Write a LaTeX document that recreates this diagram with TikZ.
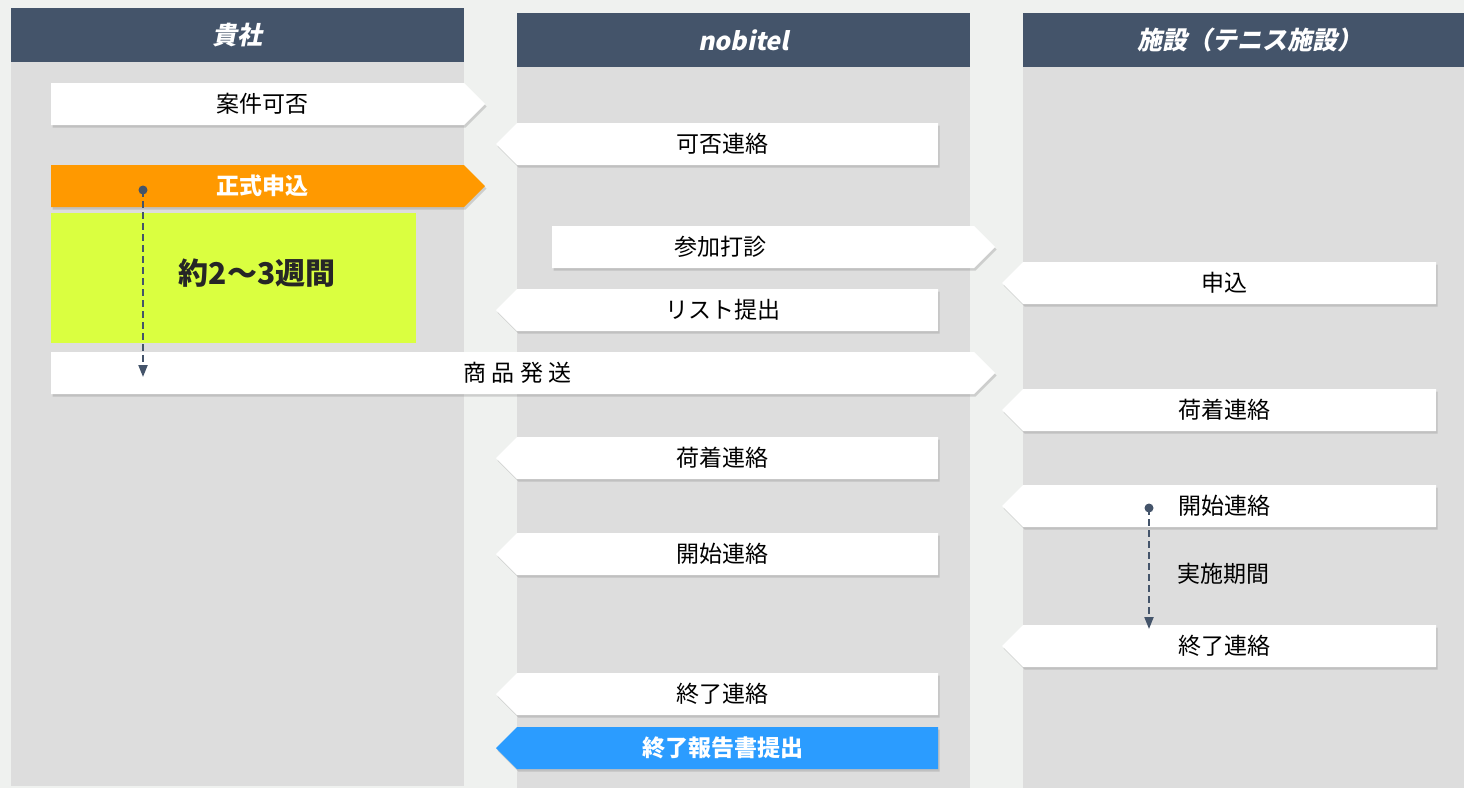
\documentclass[tikz,border=0pt]{standalone}
\usepackage{fontspec}
\setmainfont{Noto Sans CJK JP}
\newfontfamily\hdfont{Noto Sans CJK JP}[FakeSlant=0.2]
\usetikzlibrary{arrows.meta,shadows}

\definecolor{pagebg}{HTML}{EFF1EF}
\definecolor{colbg}{HTML}{DDDDDD}
\definecolor{hdblue}{HTML}{44546A}
\definecolor{orange}{HTML}{FF9900}
\definecolor{lime}{HTML}{DAFF40}
\definecolor{skyblue}{HTML}{2B9CFF}

\tikzset{
  shade/.style={drop shadow={shadow xshift=1.5pt,shadow yshift=-2.5pt,opacity=0.3}},
  wbar/.style={shade,fill=white},
  obar/.style={shade,fill=orange},
  bbar/.style={shade,fill=skyblue},
  wtxt/.style={text=black,font=\fontsize{23}{26}\selectfont},
  btxt/.style={text=white,font=\bfseries\fontsize{23}{26}\selectfont},
  head/.style={text=white,font=\hdfont\bfseries\fontsize{25}{28}\selectfont},
  flow/.style={hdblue,line width=2pt,dash pattern=on 7pt off 4pt,-{Triangle[length=12pt,width=9pt]}}
}

% bar pointing right: name, left x, right x, top y, bar style, text style, text
\newcommand{\rbar}[7]{%
  \fill[#5] (#2,#4) -- (#3,#4) -- (#3+21,#4+21) -- (#3,#4+42) -- (#2,#4+42) -- cycle;
  \node[#6] (#1) at ({(#2+#3)/2+5},#4+21) {#7};}
% bar pointing left
\newcommand{\lbar}[7]{%
  \fill[#5] (#2,#4) -- (#3,#4) -- (#3,#4+42) -- (#2,#4+42) -- (#2-21,#4+21) -- cycle;
  \node[#6] (#1) at ({(#2+#3)/2-5},#4+21) {#7};}

\begin{document}
\begin{tikzpicture}[x=1pt,y=-1pt]
  \clip (0,0) rectangle (1464,788);
  \fill[pagebg] (0,0) rectangle (1464,788);

  % columns
  \fill[colbg] (11,62) rectangle (464,786);
  \fill[colbg] (517,67) rectangle (970,788);
  \fill[colbg] (1023,67) rectangle (1476,788);
  \foreach \x/\y/\t in {11/8/貴社, 517/13/nobitel, 1023/13/施設（テニス施設）}{
    \fill[hdblue] (\x,\y) rectangle (\x+453,\y+54);
    \node[head] (hd\x) at (\x+226.5,\y+27) {\t};
  }

  % company
  \rbar{anken}{51}{464}{83}{wbar}{wtxt}{案件可否}
  \rbar{seishiki}{51}{464}{165}{obar}{btxt}{正式申込}
  \fill[lime] (51,213) rectangle (416,343);
  \node[text=black!85,font=\bfseries\fontsize{30}{34}\selectfont] (kikan) at (257,273) {約2〜3週間};
  \rbar{hassou}{51}{974}{352}{wbar}{wtxt}{商 品 発 送}

  % nobitel
  \lbar{kahi}{517}{938}{123}{wbar}{wtxt}{可否連絡}
  \rbar{sanka}{552}{974}{226}{wbar}{wtxt,xshift=-48pt}{参加打診}
  \lbar{list}{517}{938}{289}{wbar}{wtxt}{リスト提出}
  \lbar{nichakuN}{517}{938}{437}{wbar}{wtxt}{荷着連絡}
  \lbar{kaishiN}{517}{938}{533}{wbar}{wtxt}{開始連絡}
  \lbar{shuryoN}{517}{938}{673}{wbar}{wtxt}{終了連絡}
  \lbar{houkoku}{517}{938}{727}{bbar}{btxt}{終了報告書提出}

  % facility
  \lbar{moushi}{1023}{1436}{262}{wbar}{wtxt}{申込}
  \lbar{nichakuF}{1023}{1436}{389}{wbar}{wtxt}{荷着連絡}
  \lbar{kaishiF}{1023}{1436}{485}{wbar}{wtxt}{開始連絡}
  \lbar{shuryoF}{1023}{1436}{625}{wbar}{wtxt}{終了連絡}
  \node[wtxt] (jisshi) at (1223,574) {実施期間};

  % waiting periods
  \coordinate (waitA) at (143,190);
  \coordinate (waitB) at (143,377);
  \coordinate (runA) at (1149,508);
  \coordinate (runB) at (1149,629);
  \fill[hdblue] (waitA) circle (4.5pt);
  \fill[hdblue] (runA) circle (4.5pt);
  \draw[flow] (waitA) -- (waitB);
  \draw[flow] (runA) -- (runB);
\end{tikzpicture}
\end{document}
